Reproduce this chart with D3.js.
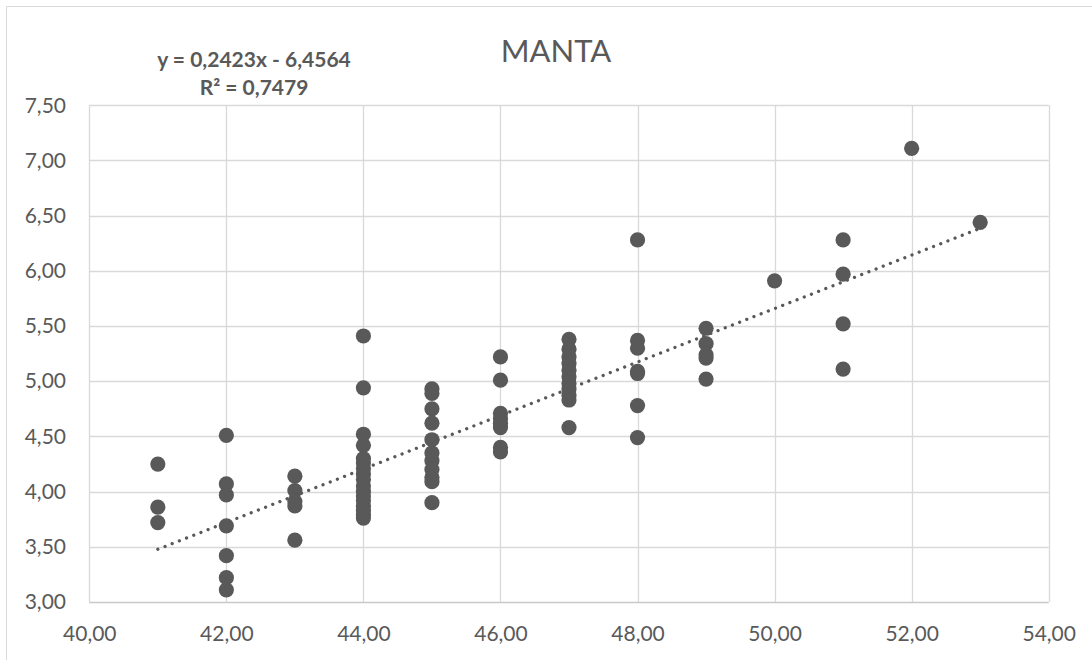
<!DOCTYPE html>
<html>
<head>
<meta charset="utf-8">
<script src="https://cdn.jsdelivr.net/npm/d3@7"></script>
<style>
  html, body { margin: 0; padding: 0; background: #fff; }
  svg { display: block; font-family: Lato, "Open Sans", sans-serif; }
</style>
</head>
<body>
<div id="chart"></div>
<script>
// x values (one per column of points) and the y values read at each x
var columns = [41, 42, 43, 44, 45, 46, 47, 48, 49, 50, 51, 52, 53]
var values = [
  [4.25, 3.86, 3.72],
  [4.51, 4.07, 3.97, 3.69, 3.42, 3.22, 3.11],
  [4.14, 4.01, 3.91, 3.87, 3.56],
  [5.41, 4.94, 4.52, 4.42, 4.30, 4.26, 4.21, 4.16, 4.11, 4.05, 4.00, 3.96, 3.92, 3.87, 3.83, 3.79, 3.76],
  [4.93, 4.89, 4.75, 4.62, 4.47, 4.35, 4.28, 4.20, 4.13, 4.09, 3.90],
  [5.22, 5.01, 4.71, 4.66, 4.62, 4.58, 4.40, 4.36],
  [5.38, 5.29, 5.22, 5.16, 5.10, 5.04, 4.98, 4.93, 4.87, 4.83, 4.58],
  [6.28, 5.37, 5.30, 5.09, 5.07, 4.78, 4.49],
  [5.48, 5.34, 5.24, 5.21, 5.02],
  [5.91],
  [6.28, 5.97, 5.52, 5.11],
  [7.11],
  [6.44]
]
var xTicks = [40, 42, 44, 46, 48, 50, 52, 54]
var yTicks = [3.0, 3.5, 4.0, 4.5, 5.0, 5.5, 6.0, 6.5, 7.0, 7.5]

// linear trend shown on the chart
var slope = 0.2423
var intercept = -6.4564
var r2 = 0.7479
var title = "MANTA"

var w = 1092, h = 660
// plot box (don't call these top/left, window.top is read only)
var plotLeft = 89.3, plotRight = 1048.7, plotTop = 105.3, plotBottom = 602
var grey = "#595959"

var points = []
columns.forEach(function(x, i) {
  values[i].forEach(function(y) { points.push({x: x, y: y}) })
})

var comma = function(v) { return d3.format(".2f")(v).replace(".", ",") }

var x = d3.scaleLinear().domain([40, 54]).range([plotLeft, plotRight])
var y = d3.scaleLinear().domain([3, 7.5]).range([plotBottom, plotTop])

var svg = d3.select("#chart").append("svg")
  .attr("width", w)
  .attr("height", h)

// chart frame (cut at right and bottom)
svg.append("path")
  .attr("d", "M6.5," + h + "V6.5H" + w)
  .attr("fill", "none")
  .attr("stroke", "#d9d9d9")

// gridlines
svg.append("g")
  .selectAll("line")
  .data(yTicks)
  .enter().append("line")
  .attr("x1", plotLeft).attr("x2", plotRight)
  .attr("y1", function(d) { return Math.round(y(d)) + 0.5 })
  .attr("y2", function(d) { return Math.round(y(d)) + 0.5 })
  .attr("stroke", function(d) { return d === 3 ? "#c8c8c8" : "#d9d9d9" })
  .attr("stroke-width", 1.3)

svg.append("g")
  .selectAll("line")
  .data(xTicks)
  .enter().append("line")
  .attr("y1", plotTop).attr("y2", plotBottom)
  .attr("x1", function(d) { return Math.round(x(d)) + 0.5 })
  .attr("x2", function(d) { return Math.round(x(d)) + 0.5 })
  .attr("stroke", "#d9d9d9")
  .attr("stroke-width", 1.3)

// axes, labels only
var xAxis = d3.axisBottom(x).tickValues(xTicks).tickFormat(comma).tickSize(0).tickPadding(0)
var yAxis = d3.axisLeft(y).tickValues(yTicks).tickFormat(comma).tickSize(0).tickPadding(0)

var gx = svg.append("g").attr("transform", "translate(0," + 634 + ")").call(xAxis)
var gy = svg.append("g").attr("transform", "translate(" + 66 + ",0)").call(yAxis)
;[gx, gy].forEach(function(g) {
  g.select(".domain").remove()
  g.selectAll("text")
    .attr("fill", grey)
    .style("font-size", "21px")
    .style("font-family", "Lato, sans-serif")
})
gx.selectAll("text").attr("dy", "0.35em").attr("y", 0)

// points
svg.append("g")
  .selectAll("circle")
  .data(points)
  .enter().append("circle")
  .attr("cx", function(d) { return x(d.x) })
  .attr("cy", function(d) { return y(d.y) })
  .attr("r", 7.6)
  .attr("fill", grey)

// dotted trend line
var x0 = d3.min(columns), x1 = d3.max(columns)
svg.append("line")
  .attr("x1", x(x0)).attr("y1", y(slope * x0 + intercept))
  .attr("x2", x(x1)).attr("y2", y(slope * x1 + intercept))
  .attr("stroke", grey)
  .attr("stroke-width", 3.3)
  .attr("stroke-linecap", "round")
  .attr("stroke-dasharray", "0.01 7.7")

// title
svg.append("text")
  .attr("x", 556)
  .attr("y", 62)
  .attr("text-anchor", "middle")
  .attr("fill", grey)
  .style("font-size", "31px")
  .text(title)

// equation label
var eq = svg.append("text")
  .attr("text-anchor", "middle")
  .attr("fill", grey)
  .style("font-size", "21px")
  .style("font-weight", "bold")
eq.append("tspan").attr("x", 254).attr("y", 67)
  .text("y = " + String(slope).replace(".", ",") + "x - " + String(-intercept).replace(".", ","))
eq.append("tspan").attr("x", 254).attr("y", 95)
  .text("R² = " + String(r2).replace(".", ","))
</script>
</body>
</html>
